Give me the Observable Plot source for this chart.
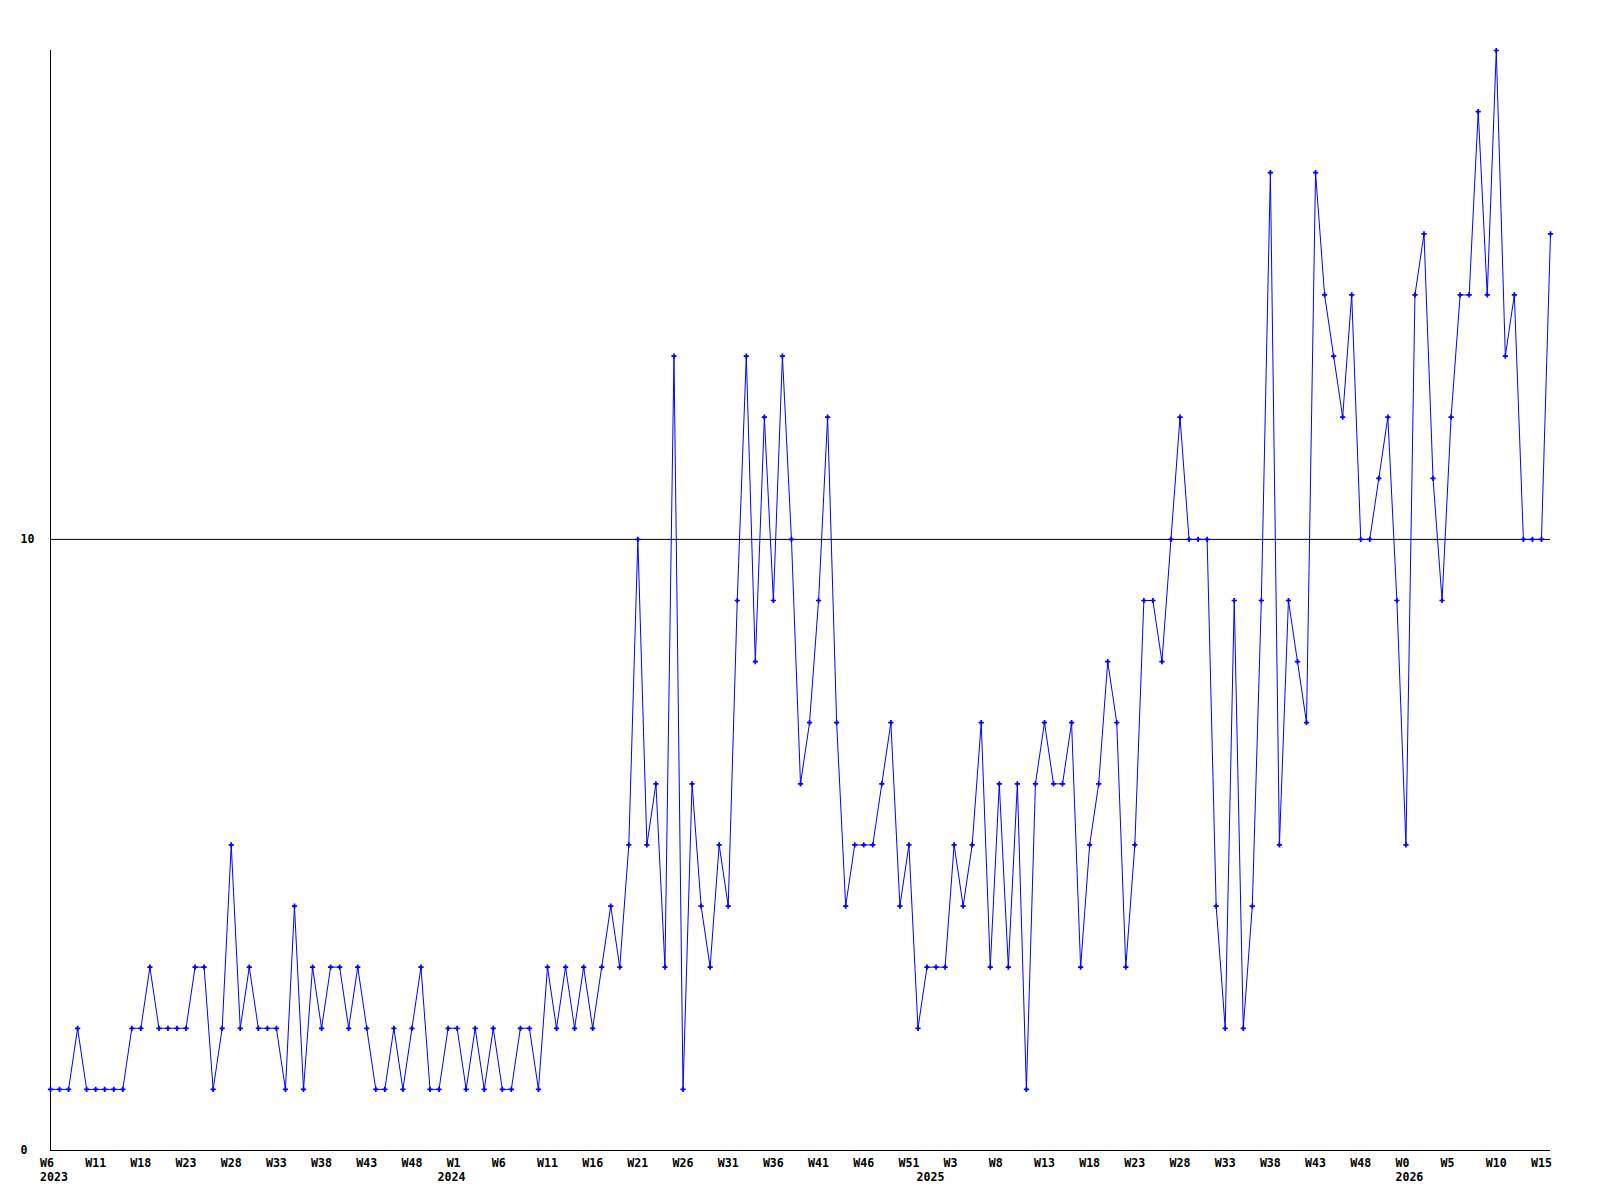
<!DOCTYPE html>
<html>
<head>
<meta charset="utf-8">
<script src="https://cdn.jsdelivr.net/npm/d3@7"></script>
<script src="https://cdn.jsdelivr.net/npm/@observablehq/plot@0.6"></script>
<style>
  html, body { margin: 0; padding: 0; background: #ffffff; }
  svg { display: block; }
</style>
</head>
<body>
<div id="chart"></div>
<script>
// Weekly values, one per week, from 2023 W6 onward
const values = [
  1,1,1,2,1,1,1,1,1,2,2,3,2,2,2,2,3,3,1,2,5,2,
  3,2,2,2,1,4,1,3,2,3,3,2,3,2,1,1,2,1,2,3,1,
  1,2,2,1,2,1,2,1,1,2,2,1,3,2,3,2,3,2,3,4,3,5,
  10,5,6,3,13,1,6,4,3,5,4,9,13,8,12,9,13,10,6,7,9,12,
  7,4,5,5,5,6,7,4,5,2,3,3,3,5,4,5,7,3,6,3,6,1,6,7,6,
  6,7,3,5,6,8,7,3,5,9,9,8,10,12,10,10,10,4,2,9,2,4,9,16,5,9,8,7,
  16,14,13,12,14,10,10,11,12,9,5,14,15,11,9,12,14,14,17,14,18,13,14,10,10,10,15
];

// Week tick labels, one every 5th week
const weekLabels = [
  "W6","W11","W18","W23","W28","W33","W38","W43","W48",
  "W1","W6","W11","W16","W21","W26","W31","W36","W41","W46","W51",
  "W3","W8","W13","W18","W23","W28","W33","W38","W43","W48",
  "W0","W5","W10","W15"
];
const weekStep = 5;

// Year labels and the week index where each year starts
const yearLabels = ["2023","2024","2025","2026"];
const yearStartIndex = [0, 44, 97, 150];

// Y-axis tick values
const yTicks = [0, 10];

const data = values.map((v, i) => ({i, v}));
const tickIdx = weekLabels.map((_, k) => k * weekStep);
const tickLabelOf = new Map(tickIdx.map((t, k) => [t, weekLabels[k]]));
const yearLabelOf = new Map(yearStartIndex.map((t, k) => [t, yearLabels[k]]));

const font = "'DejaVu Sans Mono', monospace";

const chart = Plot.plot({
  width: 1600,
  height: 1200,
  marginLeft: 50,
  marginRight: 50,
  marginTop: 50,
  marginBottom: 50,
  style: {background: "#ffffff", fontFamily: font, fontSize: "11.6px", fontWeight: "bold", color: "#000"},
  x: {domain: [0, values.length - 1], axis: null},
  y: {domain: [0, 18], axis: null},
  marks: [
    Plot.ruleY([10], {stroke: "#000", strokeWidth: 1}),
    Plot.ruleY([0], {stroke: "#000", strokeWidth: 1}),
    Plot.ruleX([0], {stroke: "#000", strokeWidth: 1}),
    Plot.axisY({ticks: yTicks, tickSize: 0, tickPadding: 30, textAnchor: "start", label: null, fill: "#000"}),
    Plot.axisX({ticks: tickIdx, tickFormat: d => tickLabelOf.get(d), tickSize: 0, tickPadding: 8, textAnchor: "start", dx: -10.5, label: null, fill: "#000"}),
    Plot.axisX({ticks: yearStartIndex, tickFormat: d => yearLabelOf.get(d), tickSize: 0, tickPadding: 22.5, textAnchor: "start", dx: -10.5, label: null, fill: "#000"}),
    Plot.line(data, {x: "i", y: "v", stroke: "#0000ff", strokeWidth: 1}),
    Plot.dot(data, {x: "i", y: "v", symbol: "cross", r: 2.2, fill: "#0000ff", stroke: "none"})
  ]
});

document.getElementById("chart").appendChild(chart);
</script>
</body>
</html>
